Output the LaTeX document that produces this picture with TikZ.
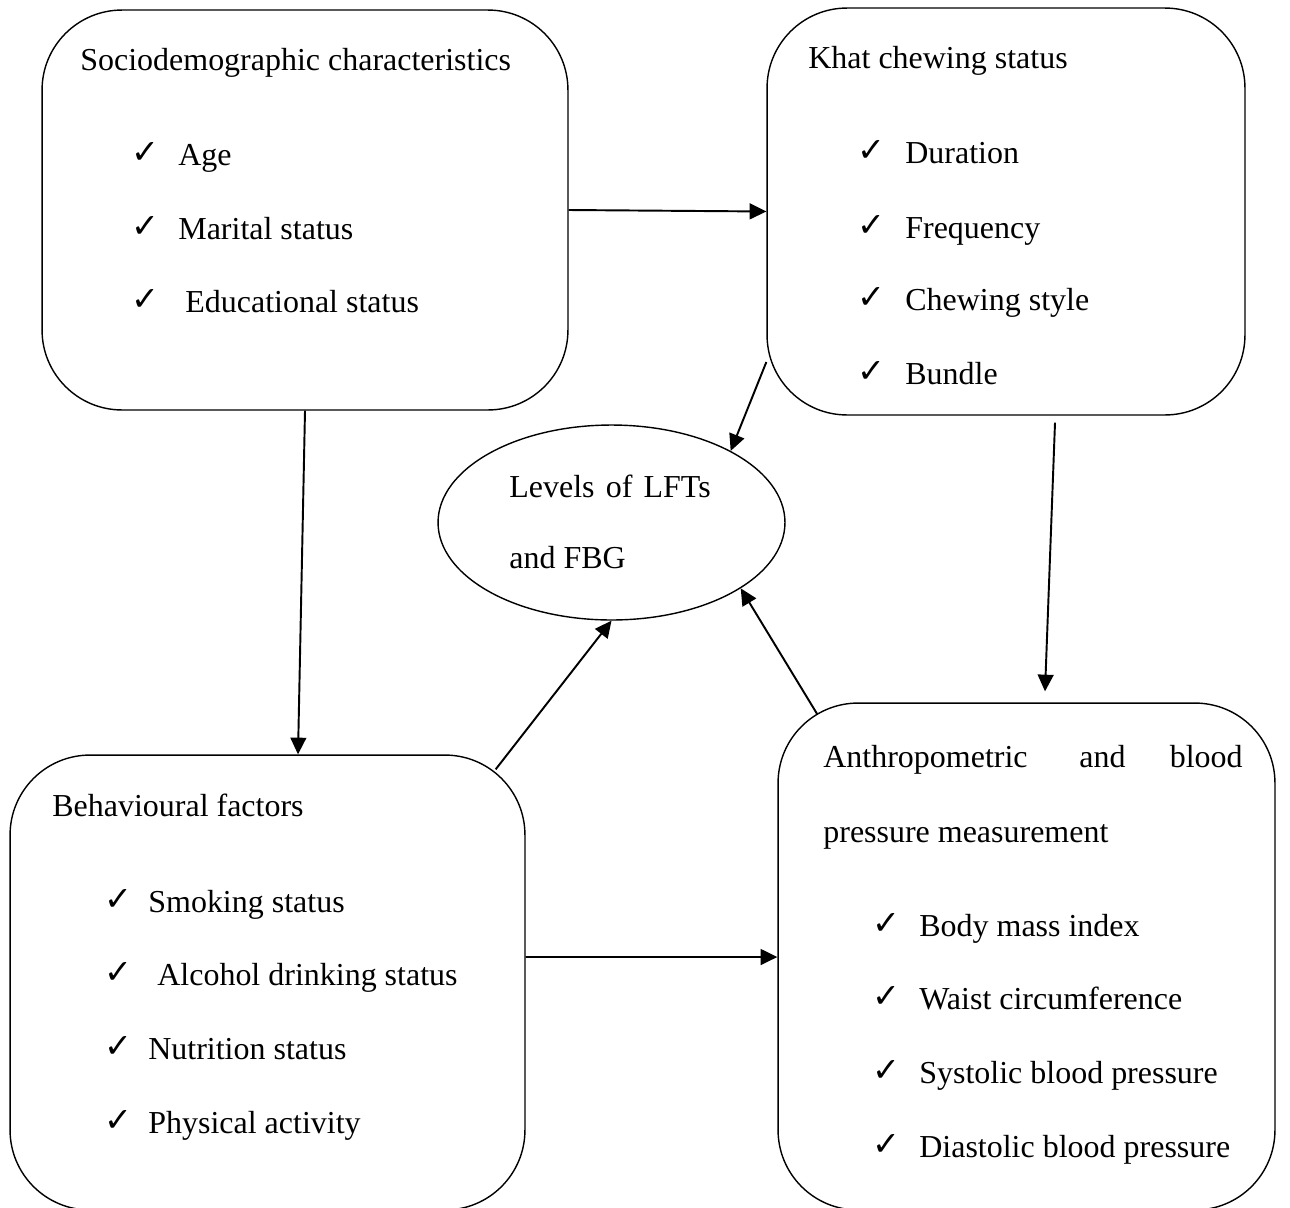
\documentclass[tikz,border=0pt]{standalone}
\usepackage{fontspec}
\setmainfont{Liberation Serif}
\newfontfamily\chkfont{DejaVu Sans}[BoldFont={DejaVu Sans Bold}]
\usetikzlibrary{arrows.meta,calc,shapes.geometric}
\begin{document}
\begin{tikzpicture}[x=0.02cm,y=-0.02cm,
 box/.style={draw,line width=0.8pt,rounded corners=1.6cm,inner sep=0},
 arr/.style={-{Triangle[length=9.5pt,width=9pt]},line width=1.1pt},
 txt/.style={anchor=base west,inner sep=0,font=\fontsize{18.2}{22}\selectfont},
 chk/.style={anchor=base west,inner sep=0,font=\chkfont\bfseries\fontsize{19}{19}\selectfont}]
\useasboundingbox (0,0) rectangle (1290,1207);
\clip (0,0) rectangle (1290,1207);
% boxes
\node[box,minimum width=10.52cm,minimum height=8cm] (b1) at (305,210) {};
\node[box,minimum width=9.56cm,minimum height=8.14cm] (b2) at (1006,211.5) {};
\node[box,minimum width=10.3cm,minimum height=9.1cm] (b3) at (267.5,982.5) {};
\node[box,minimum width=9.94cm,minimum height=10.14cm] (b4) at (1026.5,956.5) {};
\node[draw,ellipse,line width=0.8pt,minimum width=6.94cm,minimum height=3.9cm,inner sep=0] (e) at (611.5,522.5) {};
% box 1
\node[txt] (h1) at (80,70) {Sociodemographic characteristics};
\node[chk] (c11) at (131,163) {✓};
\node[txt] (i11) at (178,165) {Age};
\node[chk] (c12) at (131,237) {✓};
\node[txt] (i12) at (178,239) {Marital status};
\node[chk] (c13) at (131,310) {✓};
\node[txt] (i13) at (185,312) {Educational status};
% box 2
\node[txt] (h2) at (808,68) {Khat chewing status};
\node[chk] (c21) at (857,161) {✓};
\node[txt] (i21) at (905,163) {Duration};
\node[chk] (c22) at (857,236) {✓};
\node[txt] (i22) at (905,238) {Frequency};
\node[chk] (c23) at (857,308) {✓};
\node[txt] (i23) at (905,310) {Chewing style};
\node[chk] (c24) at (857,382) {✓};
\node[txt] (i24) at (905,384) {Bundle};
% ellipse
\node[txt] (e1) at (509,497) {Levels\hspace{0.35em}of\hspace{0.35em}LFTs};
\node[txt] (e2) at (509,568) {and FBG};
% box 3
\node[txt] (h3) at (52,816) {Behavioural factors};
\node[chk] (c31) at (104,910) {✓};
\node[txt] (i31) at (148,912) {Smoking status};
\node[chk] (c32) at (104,983) {✓};
\node[txt] (i32) at (157,985) {Alcohol drinking status};
\node[chk] (c33) at (104,1057) {✓};
\node[txt] (i33) at (148,1059) {Nutrition status};
\node[chk] (c34) at (104,1131) {✓};
\node[txt] (i34) at (148,1133) {Physical activity};
% box 4
\node[txt] (h4a) at (823,767) {Anthropometric};
\node[txt] (h4b) at (1079,767) {and};
\node[txt,anchor=base east] (h4c) at (1243,767) {blood};
\node[txt] (h4d) at (823,842) {pressure measurement};
\node[chk] (c41) at (872,934) {✓};
\node[txt] (i41) at (919,936) {Body mass index};
\node[chk] (c42) at (872,1007) {✓};
\node[txt] (i42) at (919,1009) {Waist circumference};
\node[chk] (c43) at (872,1081) {✓};
\node[txt] (i43) at (919,1083) {Systolic blood pressure};
\node[chk] (c44) at (872,1155) {✓};
\node[txt] (i44) at (919,1157) {Diastolic blood pressure};
% connectors
\draw[arr] (b1.east) -- (b2.west);
\draw[arr] (b1.south) -- ($(b3.north)+(30.5,0)$);
\draw[arr] ($(b2.west)+(0,150.5)$) -- (e.31);
\draw[arr] ($(b2.south)+(49,7)$) -- ($(b4.north)+(18.5,-11)$);
\draw[arr] ($(b3.north east)+(-30,15)$) -- (e.south);
\draw[arr] ($(b4.north west)+(40,12)$) -- (e.-27);
\draw[arr] ($(b3.east)+(0,-25.5)$) -- ($(b4.west)+(0,0.5)$);
\end{tikzpicture}
\end{document}
